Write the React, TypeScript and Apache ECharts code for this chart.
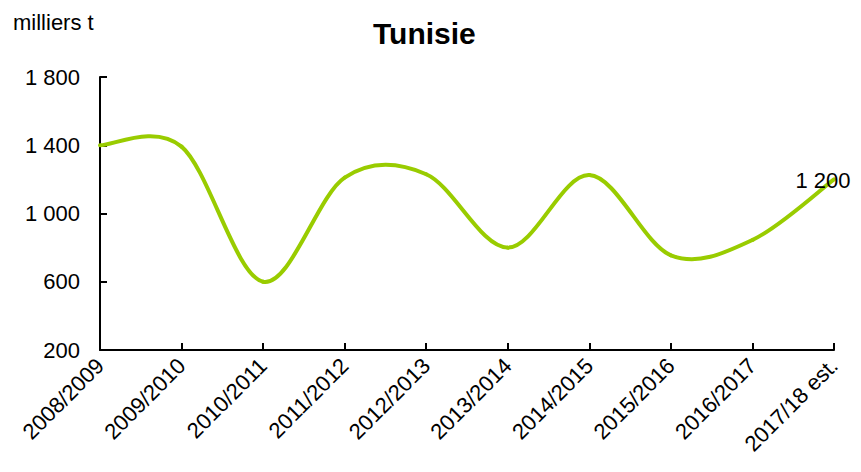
import React, { useEffect, useRef } from "react";
import * as echarts from "echarts";

const categories = [
  "2008/2009",
  "2009/2010",
  "2010/2011",
  "2011/2012",
  "2012/2013",
  "2013/2014",
  "2014/2015",
  "2015/2016",
  "2016/2017",
  "2017/18 est.",
];
const values = [1400, 1392, 600, 1210, 1230, 800, 1225, 755, 845, 1200];
const yTicks = [200, 600, 1000, 1400, 1800];
const title = "Tunisie";
const unit = "milliers t";

const fmt = (v: number) => String(v).replace(/\B(?=(\d{3})+(?!\d))/g, " ");

export default function App() {
  const ref = useRef<HTMLDivElement>(null);
  useEffect(() => {
    if (!ref.current) return;
    const chart = echarts.init(ref.current, null, { renderer: "svg" });
    const font = "'Liberation Sans', Arial, sans-serif";
    const n = values.length;
    chart.setOption({
      animation: false,
      backgroundColor: "#ffffff",
      title: {
        text: title,
        left: 373,
        top: 18,
        padding: 0,
        textStyle: { fontFamily: font, fontSize: 30, fontWeight: "bold", color: "#000" },
      },
      graphic: [
        {
          type: "text",
          left: 13,
          top: 11,
          style: { text: unit, font: `22px ${font}`, fill: "#000" },
        },
      ],
      grid: { left: 100, right: 27, top: 77, bottom: 122, containLabel: false },
      xAxis: {
        type: "category",
        data: categories,
        boundaryGap: false,
        axisLine: { lineStyle: { color: "#000", width: 2 } },
        axisTick: { inside: true, length: 7, lineStyle: { color: "#000", width: 2 } },
        axisLabel: {
          rotate: 45,
          margin: 12,
          interval: 0,
          fontFamily: font,
          fontSize: 22,
          color: "#000",
        },
        splitLine: { show: false },
      },
      yAxis: {
        type: "value",
        min: yTicks[0],
        max: yTicks[yTicks.length - 1],
        interval: 400,
        axisLine: { show: true, lineStyle: { color: "#000", width: 2 } },
        axisTick: { show: true, inside: true, length: 7, lineStyle: { color: "#000", width: 2 } },
        axisLabel: {
          margin: 20,
          fontFamily: font,
          fontSize: 22,
          color: "#000",
          formatter: (v: number) => fmt(v),
        },
        splitLine: { show: false },
      },
      series: [
        {
          type: "custom",
          clip: false,
          data: values.map((v, i) => [i, v]),
          encode: { x: 0, y: 1 },
          renderItem: (params: any, api: any) => {
            const i = params.dataIndex;
            const pt = (k: number) => {
              const kk = Math.max(0, Math.min(n - 1, k));
              return api.coord([kk, values[kk]]);
            };
            if (i === n - 1) {
              const p = pt(i);
              return {
                type: "text",
                x: p[0] - 11,
                y: p[1] + 1,
                style: {
                  text: fmt(values[i]),
                  font: `22px ${font}`,
                  fill: "#000",
                  align: "center",
                  verticalAlign: "middle",
                },
                z2: 10,
              };
            }
            const p0 = pt(i - 1);
            const p1 = pt(i);
            const p2 = pt(i + 1);
            const p3 = pt(i + 2);
            const c1 = [p1[0] + (p2[0] - p0[0]) / 6, p1[1] + (p2[1] - p0[1]) / 6];
            const c2 = [p2[0] - (p3[0] - p1[0]) / 6, p2[1] - (p3[1] - p1[1]) / 6];
            return {
              type: "bezierCurve",
              shape: {
                x1: p1[0],
                y1: p1[1],
                cpx1: c1[0],
                cpy1: c1[1],
                cpx2: c2[0],
                cpy2: c2[1],
                x2: p2[0],
                y2: p2[1],
              },
              style: { stroke: "#99cc00", lineWidth: 4, fill: "none", lineCap: "round" },
            };
          },
        },
      ],
    });
    return () => chart.dispose();
  }, []);
  return <div ref={ref} style={{ width: 861, height: 472, margin: -8 }} />;
}
